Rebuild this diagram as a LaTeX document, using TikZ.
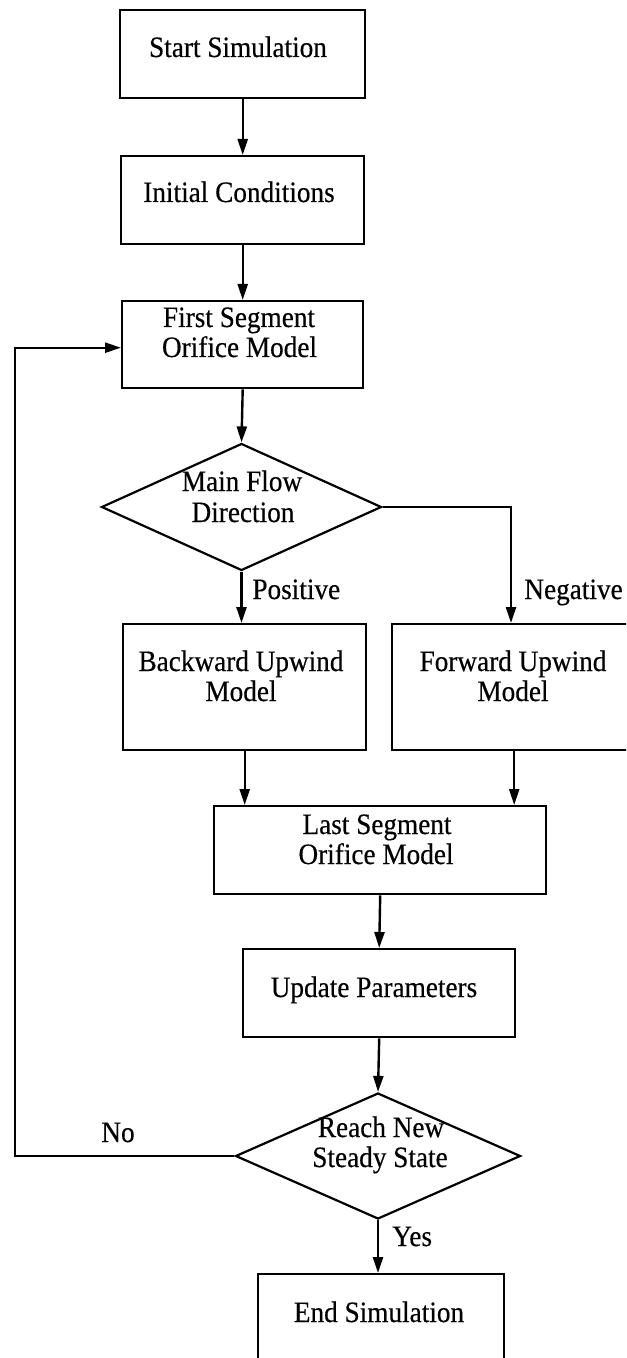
\documentclass[tikz,border=0pt]{standalone}
\usepackage{fontspec}
\setmainfont{Liberation Serif}[FakeStretch=0.92,FakeBold=0.4]
\usetikzlibrary{arrows.meta,shapes.geometric}
\tikzset{
  boxnode/.style={draw, line width=1.2pt, rectangle, inner sep=0pt, anchor=north west},
  decnode/.style={draw, line width=1.1pt, diamond, inner sep=0pt},
  txt/.style={anchor=base, inner sep=0pt, font=\fontsize{14.8}{15}\selectfont},
  txtl/.style={anchor=base west, inner sep=0pt, font=\fontsize{14.8}{15}\selectfont},
  conn/.style={line width=1.2pt, -{Triangle[length=8pt,width=5pt]}}
}
\begin{document}
\begin{tikzpicture}[x=0.5pt,y=-0.5pt]
\useasboundingbox (0,0) rectangle (626,1358);
\clip (0,0) rectangle (626,1358);
% boxes
\node[boxnode, minimum width=245*0.5pt, minimum height=88*0.5pt] (start) at (119,9) {};
\node[boxnode, minimum width=243*0.5pt, minimum height=88*0.5pt] (init) at (120,155) {};
\node[boxnode, minimum width=241*0.5pt, minimum height=87*0.5pt] (first) at (121,300) {};
\node[decnode, minimum width=280*0.5pt, minimum height=127*0.5pt] (d1) at (241.5,507) {};
\node[boxnode, minimum width=243*0.5pt, minimum height=126*0.5pt] (back) at (122,623) {};
\node[boxnode, minimum width=244*0.5pt, minimum height=126*0.5pt] (fwd) at (391,623) {};
\node[boxnode, minimum width=332*0.5pt, minimum height=88*0.5pt] (last) at (213,805) {};
\node[boxnode, minimum width=272*0.5pt, minimum height=88*0.5pt] (upd) at (242,948) {};
\node[decnode, minimum width=285*0.5pt, minimum height=126*0.5pt] (d2) at (378,1156) {};
\node[boxnode, minimum width=246*0.5pt, minimum height=130*0.5pt] (endb) at (257,1273) {};
% texts
\node[txt] (t1) at (238,57) {Start Simulation};
\node[txt] (t2) at (239,202) {Initial Conditions};
\node[txt] (t3a) at (239,327) {First Segment};
\node[txt] (t3b) at (239.5,357) {Orifice Model};
\node[txt] (t4a) at (242,491) {Main Flow};
\node[txt] (t4b) at (243,522) {Direction};
\node[txtl] (pos) at (252,599) {Positive};
\node[txtl] (neg) at (524,599) {Negative};
\node[txt] (t5a) at (241,671) {Backward Upwind};
\node[txt] (t5b) at (241,701) {Model};
\node[txt] (t6a) at (513,671) {Forward Upwind};
\node[txt] (t6b) at (513,701) {Model};
\node[txt] (t7a) at (377,834) {Last Segment};
\node[txt] (t7b) at (376,864) {Orifice Model};
\node[txt] (t8) at (374,997) {Update Parameters};
\node[txtl] (no) at (101,1142) {No};
\node[txt] (t9a) at (381,1137) {Reach New};
\node[txt] (t9b) at (380,1167) {Steady State};
\node[txtl] (yes) at (392,1246) {Yes};
\node[txt] (t10) at (379,1322) {End Simulation};
% connectors
\coordinate (loopx) at (15,0);
\coordinate (negx) at (511,0);
\draw[conn] (start.south) -- (init.north);
\draw[conn] (init.south) -- (first.north);
\draw[conn] (first.south) -- (d1.north);
\draw[conn] (d1.south) -- (d1.south |- back.north);
\draw[conn] (d1.east) -- (d1.east -| negx) -- (negx |- fwd.north);
\draw[conn] (back.south) -- (back.south |- last.north);
\draw[conn] (fwd.south) -- (fwd.south |- last.north);
\draw[conn] (last.south) -- (upd.north);
\draw[conn] (upd.south) -- (d2.north);
\draw[conn] (d2.south) -- (d2.south |- endb.north);
\draw[conn] (d2.west) -- (d2.west -| loopx) -- ([yshift=-1.5pt]loopx |- first.west) -- ([yshift=-1.5pt]first.west);
\end{tikzpicture}
\end{document}
